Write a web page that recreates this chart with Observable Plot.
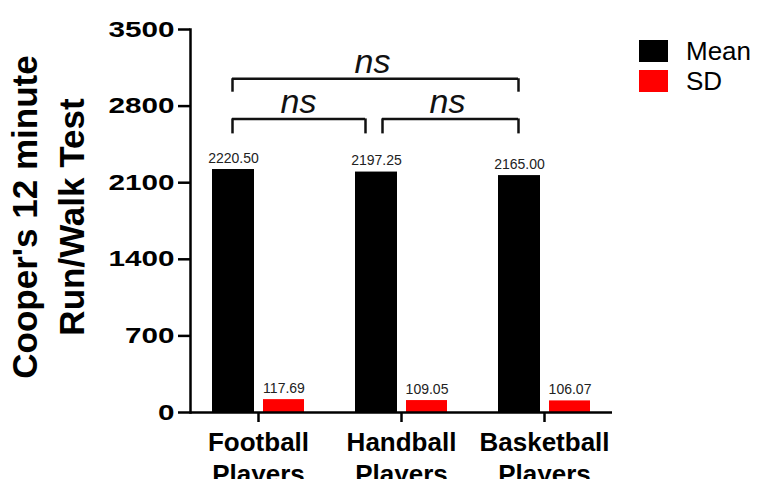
<!DOCTYPE html>
<html><head><meta charset="utf-8">
<script src="https://cdn.jsdelivr.net/npm/d3@7"></script>
<script src="https://cdn.jsdelivr.net/npm/@observablehq/plot@0.6"></script>
<style>
body{margin:0;background:#fff;font-family:"Liberation Sans",Arial,sans-serif}
#wrap{position:relative;width:767px;height:479px;overflow:hidden}
#legend{position:absolute;left:639px;top:37px}
#legend svg{margin-right:18px !important}
</style></head><body><div id="wrap"></div>
<script>
const groups = ["Football Players", "Handball Players", "Basketball Players"];
const series = ["Mean", "SD"];
const means = [2220.50, 2197.25, 2165.00];
const sds = [117.69, 109.05, 106.07];
const seriesColors = ["#000000", "#ff0000"];
const yTicks = [0, 700, 1400, 2100, 2800, 3500];
const yTitle = "Cooper's 12 minute\nRun/Walk Test";
// significance comparisons (bracket height and leg bottom in data units)
const compA = ["Football Players", "Football Players", "Handball Players"];
const compB = ["Basketball Players", "Handball Players", "Basketball Players"];
const compY = [3050, 2683, 2683];
const compLeg = [2927, 2546, 2546];
const compLabel = ["ns", "ns", "ns"];

const meanRows = groups.map((g, i) => ({group: g, series: "Mean", value: means[i]}));
const sdRows = groups.map((g, i) => ({group: g, series: "SD", value: sds[i]}));

// layout for the brackets (insets / offsets in px)
const brLayout = [
  {inL: 20, inR: 72, dxA: -26, dxB: -26, tx: "Handball Players", tdx: -29},
  {inL: 20, inR: 82, dxA: -26, dxB: -36, tx: "Football Players", tdx: 40},
  {inL: 27, inR: 72, dxA: -19, dxB: -26, tx: "Handball Players", tdx: 46}
];
const bracketMarks = [];
compA.forEach((a, i) => {
  const row = [{a, b: compB[i], y: compY[i], leg: compLeg[i], label: compLabel[i]}];
  const L = brLayout[i];
  bracketMarks.push(
    Plot.ruleY(row, {x1: "a", x2: "b", y: "y", insetLeft: L.inL, insetRight: L.inR, stroke: "#111", strokeWidth: 2.5}),
    Plot.ruleX(row, {x: "a", y1: "leg", y2: "y", dx: L.dxA, stroke: "#111", strokeWidth: 2.5}),
    Plot.ruleX(row, {x: "b", y1: "leg", y2: "y", dx: L.dxB, stroke: "#111", strokeWidth: 2.5}),
    Plot.text(row, {x: () => L.tx, y: "y", text: "label", dx: L.tdx, dy: -6, lineAnchor: "bottom", fontSize: 34, fontStyle: "italic", fill: "#111"})
  );
});

const chart = Plot.plot({
  width: 767, height: 479,
  marginLeft: 190, marginRight: 155, marginTop: 29, marginBottom: 67,
  style: {fontFamily: "'Liberation Sans', Arial, sans-serif", background: "white", color: "black", overflow: "visible"},
  x: {domain: groups, paddingInner: 0.357, paddingOuter: 0.154},
  y: {domain: [0, 3500]},
  color: {domain: series, range: seriesColors},
  marks: [
    Plot.barY(meanRows, {x: "group", y: "value", fill: "series", insetRight: 50}),
    Plot.barY(sdRows, {x: "group", y: "value", fill: "series", insetLeft: 51}),
    Plot.text(meanRows, {x: "group", y: "value", text: d => d.value.toFixed(2), dx: -25, dy: -7, lineAnchor: "bottom", fontSize: 14, fill: "#222"}),
    Plot.text(sdRows, {x: "group", y: "value", text: d => d.value.toFixed(2), dx: 25.5, dy: -7, lineAnchor: "bottom", fontSize: 14, fill: "#222"}),
    ...bracketMarks,
    Plot.axisY({ticks: yTicks, tickFormat: d => String(d), tickSize: 12, tickPadding: 4, fontSize: 22, fontWeight: "bold", strokeWidth: 2.5, label: null}),
    Plot.axisX({tickSize: 10, tickPadding: 6, fontSize: 26, fontWeight: "bold", lineHeight: 1.23, strokeWidth: 2.5, tickFormat: d => d.replace(" ", "\n"), label: null}),
    Plot.ruleY([0], {strokeWidth: 2.5}),
    Plot.frame({anchor: "left", strokeWidth: 2.5}),
    Plot.text([yTitle], {text: d => d, frameAnchor: "left", textAnchor: "middle", rotate: -90, dx: -145, dy: -4, fontSize: 35, fontWeight: "bold", lineHeight: 1.33, fill: "black"})
  ]
});

// widen y tick labels like the reference
d3.select(chart).selectAll('g[aria-label="y-axis tick label"] text').each(function() {
  const t = this.textContent;
  this.setAttribute("textLength", 16.5 * t.length);
  this.setAttribute("lengthAdjust", "spacingAndGlyphs");
});

const wrap = document.getElementById("wrap");
wrap.appendChild(chart);
const legend = chart.legend("color", {columns: 1, swatchWidth: 29, swatchHeight: 22, style: {fontSize: "26px", lineHeight: "1.1", fontFamily: "'Liberation Sans', Arial, sans-serif", color: "black"}});
legend.id = "legend";
wrap.appendChild(legend);
</script></body></html>
